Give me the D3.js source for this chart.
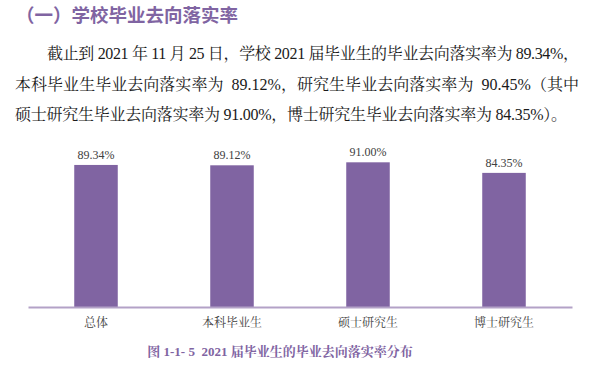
<!DOCTYPE html>
<html>
<head>
<meta charset="utf-8">
<script src="https://cdn.jsdelivr.net/npm/d3@7"></script>
<style>
  body { margin: 0; background: #fff; }
  svg { display: block; }
</style>
</head>
<body>
<svg id="chart" width="614" height="372"></svg>
<script>
// data
var categories = ["总体", "本科毕业生", "硕士研究生", "博士研究生"];
var rates = [89.34, 89.12, 91.00, 84.35];
var heading = "（一）学校毕业去向落实率";
var paragraph = [
  "截止到 2021 年 11 月 25 日，学校 2021 届毕业生的毕业去向落实率为 89.34%，",
  "本科毕业生毕业去向落实率为  89.12%，研究生毕业去向落实率为  90.45%（其中",
  "硕士研究生毕业去向落实率为 91.00%，博士研究生毕业去向落实率为 84.35%）。"
];
var caption = "图 1-1- 5  2021 届毕业生的毕业去向落实率分布";

var purple = "#8064a2";
var serif = "'Liberation Serif', 'Noto Serif CJK SC', 'Noto Sans CJK SC', serif";

var svg = d3.select("#chart");

/* heading */
svg.append("text")
  .attr("x", 16).attr("y", 22)
  .attr("font-family", "'Noto Sans CJK SC', sans-serif")
  .attr("font-weight", "bold")
  .attr("font-size", 18.5)
  .attr("fill", purple)
  .text(heading);

/* body text, justified like the page */
var lines = [
  { x: 47, end: 579 },
  { x: 15, end: 579 },
  { x: 15, end: 567 }
];
svg.selectAll("text.para")
  .data(paragraph)
  .enter().append("text")
  .attr("class", "para")
  .attr("x", function(d, i) { return lines[i].x; })
  .attr("y", function(d, i) { return 59 + i * 30.5; })
  .attr("textLength", function(d, i) { return lines[i].end - lines[i].x; })
  .attr("lengthAdjust", "spacing")
  .attr("font-family", serif)
  .attr("font-size", 16)
  .attr("fill", "#1a1a1a")
  .style("white-space", "pre")
  .text(function(d) { return d; });

/* bar chart */
var x = d3.scaleBand()
  .domain(categories)
  .range([28, 572])
  .paddingInner(0.68)
  .paddingOuter(0.34);

var y = d3.scaleLinear()
  .domain([0, 100])
  .range([307, 148]);

var rows = categories.map(function(c, i) { return { cat: c, val: rates[i] }; });

svg.append("g").selectAll("rect")
  .data(rows)
  .enter().append("rect")
  .attr("x", function(d) { return x(d.cat); })
  .attr("y", function(d) { return y(d.val); })
  .attr("width", x.bandwidth())
  .attr("height", function(d) { return y(0) - y(d.val); })
  .attr("fill", purple);

svg.append("g").selectAll("text")
  .data(rows)
  .enter().append("text")
  .attr("x", function(d) { return x(d.cat) + x.bandwidth() / 2; })
  .attr("y", function(d) { return y(d.val) - 6; })
  .attr("text-anchor", "middle")
  .attr("font-family", serif)
  .attr("font-size", 12)
  .attr("fill", "#404040")
  .text(function(d) { return d3.format(".2f")(d.val) + "%"; });

var axis = svg.append("g")
  .attr("transform", "translate(0," + y(0) + ")")
  .call(d3.axisBottom(x).tickSize(0).tickPadding(11).tickSizeOuter(0));

axis.select(".domain")
  .attr("stroke", "#b3a2c7")
  .attr("stroke-width", 2);

axis.selectAll(".tick text")
  .attr("font-family", serif)
  .attr("font-size", 12)
  .attr("fill", "#404040");

/* caption */
svg.append("text")
  .attr("x", 280).attr("y", 356)
  .attr("text-anchor", "middle")
  .attr("font-family", serif)
  .attr("font-weight", "bold")
  .attr("font-size", 13)
  .attr("fill", purple)
  .style("white-space", "pre")
  .text(caption);
</script>
</body>
</html>
